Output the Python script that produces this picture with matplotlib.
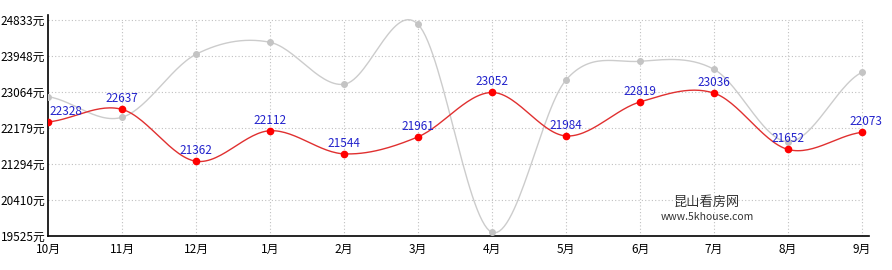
import numpy as np
import matplotlib
matplotlib.use("Agg")
import matplotlib.pyplot as plt

plt.rcParams['font.family'] = ['Noto Sans CJK SC', 'DejaVu Sans']

months = ['10月', '11月', '12月', '1月', '2月', '3月', '4月', '5月', '6月', '7月', '8月', '9月']
kunshan = [22328, 22637, 21362, 22112, 21544, 21961, 23052, 21984, 22819, 23036, 21652, 22073]
other = [22948, 22442, 23990, 24285, 23253, 24727, 19615, 23359, 23818, 23621, 21843, 23547]
yticks = [19525, 20410, 21294, 22179, 23064, 23948, 24833]


def smooth(y, n=30):
    # catmull-rom through the points, just for drawing the curve
    y = np.asarray(y, dtype=float)
    p = np.concatenate([[y[0]], y, [y[-1]]])
    xs, ys = [], []
    for i in range(len(y) - 1):
        p0, p1, p2, p3 = p[i], p[i + 1], p[i + 2], p[i + 3]
        t = np.linspace(0, 1, n, endpoint=False)
        m1 = (p2 - p0) / 2
        m2 = (p3 - p1) / 2
        h00 = 2 * t**3 - 3 * t**2 + 1
        h10 = t**3 - 2 * t**2 + t
        h01 = -2 * t**3 + 3 * t**2
        h11 = t**3 - t**2
        xs.append(i + t)
        ys.append(h00 * p1 + h10 * m1 + h01 * p2 + h11 * m2)
    xs.append([len(y) - 1])
    ys.append([y[-1]])
    return np.concatenate(xs), np.concatenate(ys)


fig = plt.figure(figsize=(8.92, 2.70), dpi=100)
ax = fig.add_axes([48 / 892, 34 / 270, (869 - 48) / 892, 221 / 270])

x = np.arange(len(months))
ax.set_xlim(0, 11 * (869 - 48) / (862 - 48))
ax.set_ylim(19525, 24833 + 5 * 5308 / 216)

ax.hlines(yticks[1:], 0, 11, colors='#c0c0c0', linestyles=(0, (1, 2)), linewidth=0.8, zorder=0)
ax.vlines(x[1:], 19525, 24833, colors='#c0c0c0', linestyles=(0, (1, 2)), linewidth=0.8, zorder=0)

gx, gy = smooth(other)
ax.plot(gx, gy, color='#cccccc', linewidth=1.0, zorder=2)
ax.plot(x, other, 'o', color='#c4c4c4', markersize=4, zorder=3)

rx, ry = smooth(kunshan)
ax.plot(rx, ry, color='#e03030', linewidth=1.0, zorder=4)
ax.plot(x, kunshan, 'o', color='#ff0000', markersize=4.5, zorder=5)

for i, v in enumerate(kunshan):
    ha = 'left' if i == 0 else 'center'
    dx = 1 if i == 0 else (3 if i == len(kunshan) - 1 else 0)
    ax.annotate(str(v), (i, v), xytext=(dx, 3), textcoords='offset points',
                ha=ha, va='bottom', color='#2222cc', fontsize=8.5, zorder=6)

ax.set_xticks(x)
ax.set_xticklabels(months, fontsize=8.5)
ax.set_yticks(yticks)
ax.set_yticklabels([f'{v}元' for v in yticks], fontsize=8.5)
ax.tick_params(axis='x', length=0, pad=5)
ax.tick_params(axis='y', length=0, pad=2)

for s in ['top', 'right']:
    ax.spines[s].set_visible(False)
ax.spines['left'].set_linewidth(1.2)
ax.spines['bottom'].set_linewidth(1.2)

fig.text(707 / 892, 1 - 202 / 270, '昆山看房网', ha='center', va='center', fontsize=9.5, color='#333333')
fig.text(707 / 892, 1 - 217 / 270, 'www.5khouse.com', ha='center', va='center', fontsize=7.5, color='#333333')

fig.savefig('out.png', dpi=100)
